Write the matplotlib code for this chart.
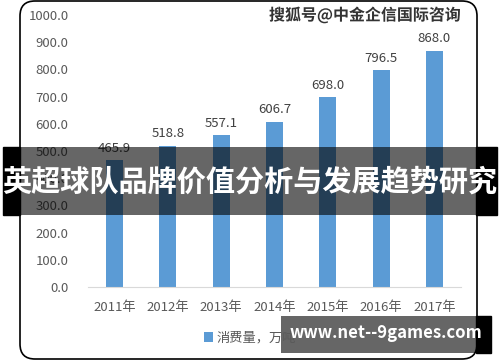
import matplotlib
matplotlib.use("Agg")
import matplotlib.pyplot as plt
import matplotlib.patheffects as pe
from matplotlib.patches import FancyBboxPatch, Rectangle

plt.rcParams['font.family'] = ['Noto Sans CJK SC', 'DejaVu Sans']

# data
years = ['2011年', '2012年', '2013年', '2014年', '2015年', '2016年', '2017年']
consumption = [465.9, 518.8, 557.1, 606.7, 698.0, 796.5, 868.0]
series_name = '消费量，万吨'
banner_title = '英超球队品牌价值分析与发展趋势研究'
watermark = '搜狐号@中金企信国际咨询'
site = 'www.net--9games.com'

blue = '#5B9BD5'
grey_txt = '#595959'

fig = plt.figure(figsize=(5, 3.62), dpi=100)
ax = fig.add_axes([0.176, 0.2072, 0.746, 0.7514])

x = range(len(years))
bars = ax.bar(x, consumption, width=0.32, color=blue, label=series_name, zorder=2)
for xi, v in zip(x, consumption):
    ax.annotate(f'{v:.1f}', (xi, v), xytext=(0, 4), textcoords='offset points',
                ha='center', va='bottom', fontsize=9.5, color='#404040')

ax.set_xlim(-0.5, len(years) - 0.5)
ax.set_ylim(0, 1000)
ax.set_yticks(range(0, 1001, 100))
ax.set_yticklabels([f'{t:.1f}' for t in range(0, 1001, 100)])
ax.set_xticks(list(x))
ax.set_xticklabels(years)
ax.tick_params(axis='both', length=0, labelsize=9.5, colors=grey_txt)
ax.tick_params(axis='y', pad=14)
ax.tick_params(axis='x', pad=10)
for s in ['top', 'right', 'left']:
    ax.spines[s].set_visible(False)
ax.spines['bottom'].set_color('#D9D9D9')

fig.legend(handles=[bars], labels=[series_name], loc='center',
           bbox_to_anchor=(0.5, 0.066), frameon=False, fontsize=9.5,
           handlelength=0.7, handleheight=0.7, handletextpad=0.3,
           labelcolor=grey_txt)

# rounded frame
frame = FancyBboxPatch((0.2, 0.03), 4.57, 3.58,
                       boxstyle='round,pad=0,rounding_size=0.15',
                       transform=fig.dpi_scale_trans, fill=False,
                       edgecolor='black', linewidth=1.2, zorder=3)
fig.add_artist(frame)

# watermark at top right
fig.text(0.73, 0.958, watermark, ha='center', va='center', fontsize=11.5,
         fontweight='bold', color='#333333',
         path_effects=[pe.withStroke(linewidth=2.5, foreground='white')])

# banner across the middle
by0, by1 = 1 - 215 / 362, 1 - 147 / 362
fig.add_artist(Rectangle((3 / 500, by0), 17 / 500, by1 - by0,
                         transform=fig.transFigure, color='black', zorder=5))
fig.add_artist(Rectangle((476 / 500, by0), 21 / 500, by1 - by0,
                         transform=fig.transFigure, color='black', zorder=5))
fig.add_artist(Rectangle((20 / 500, by0), 456 / 500, by1 - by0,
                         transform=fig.transFigure, color='black', alpha=0.6,
                         zorder=5, linewidth=0))
fig.text(0.5, 1 - 182 / 362, banner_title, ha='center', va='center',
         fontsize=21, fontweight='bold', color='white', zorder=6)

# site box bottom right
sy0, sy1 = 1 - 353 / 362, 1 - 316 / 362
fig.add_artist(Rectangle((281 / 500, sy0), 195 / 500, sy1 - sy0,
                         transform=fig.transFigure, color='black', alpha=0.6,
                         zorder=5, linewidth=0))
fig.add_artist(Rectangle((476 / 500, sy0), 15 / 500, sy1 - sy0,
                         transform=fig.transFigure, color='black', zorder=5))
fig.text(0.771, (sy0 + sy1) / 2 + 0.004, site, ha='center', va='center',
         fontsize=12, fontweight='bold', color='white', zorder=6)

fig.savefig('out.png', dpi=100)
